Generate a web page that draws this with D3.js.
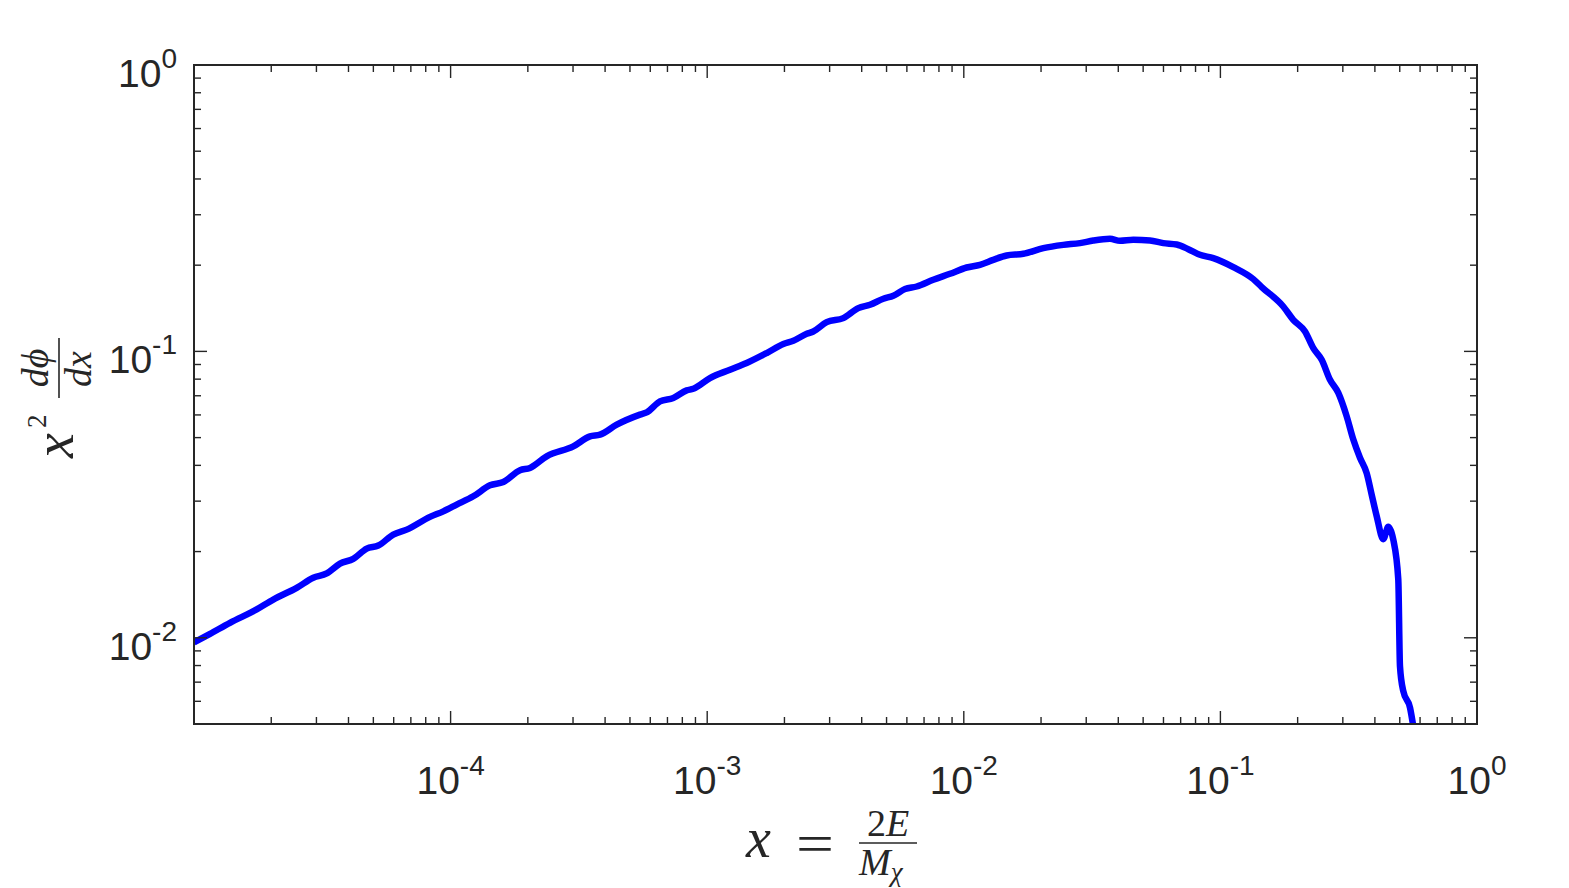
<!DOCTYPE html>
<html>
<head>
<meta charset="utf-8">
<script src="https://cdn.jsdelivr.net/npm/d3@7"></script>
<style>
  html, body { margin: 0; padding: 0; background: #fff; }
  svg { display: block; }
</style>
</head>
<body>
<svg id="chart" width="1569" height="888"></svg>
<script>
// ---------- data ----------
const xValues = [1.00e-5, 1.155e-5, 1.381e-5, 1.755e-5, 2.037e-5, 2.513e-5, 2.917e-5, 3.291e-5, 3.707e-5, 4.176e-5,
  4.710e-5, 5.226e-5, 5.978e-5, 6.744e-5, 8.31e-5, 9.37e-5, 1.056e-4, 1.226e-4, 1.424e-4, 1.605e-4,
  1.864e-4, 2.039e-4, 2.368e-4, 3.008e-4, 3.494e-4, 3.822e-4, 4.440e-4, 5.470e-4, 5.810e-4, 6.546e-4,
  7.378e-4, 8.318e-4, 8.826e-4, 1.025e-3, 1.227e-3, 1.425e-3, 1.706e-3, 1.980e-3, 2.166e-3, 2.443e-3,
  2.592e-3, 2.922e-3, 3.392e-3, 3.880e-3, 4.310e-3, 4.858e-3, 5.313e-3, 5.902e-3, 6.554e-3, 7.604e-3,
  8.835e-3, 1.026e-2, 1.156e-2, 1.303e-2, 1.469e-2, 1.706e-2, 2.041e-2, 2.443e-2, 2.836e-2, 3.197e-2,
  3.713e-2, 4.062e-2, 4.577e-2, 5.317e-2, 5.992e-2, 6.756e-2, 7.495e-2, 8.324e-2, 9.382e-2, 0.1123,
  0.1344, 0.1449, 0.1758, 0.1923, 0.2137, 0.2302, 0.2482, 0.2674, 0.2881, 0.3106,
  0.3296, 0.3499, 0.3716, 0.3887, 0.4065, 0.4314, 0.4511, 0.4718, 0.4934, 0.5010,
  0.5162, 0.5483, 0.5631];
const yValues = [0.00963, 0.01032, 0.01128, 0.01256, 0.01360, 0.01494, 0.01620, 0.01677, 0.01816, 0.01886,
  0.02049, 0.02099, 0.02293, 0.02386, 0.02643, 0.02764, 0.02917, 0.03119, 0.03406, 0.03501,
  0.03849, 0.03918, 0.04301, 0.04660, 0.05050, 0.05119, 0.05546, 0.06012, 0.06124, 0.06688,
  0.06874, 0.07308, 0.07408, 0.08072, 0.08630, 0.09108, 0.09868, 0.1061, 0.1089, 0.1152,
  0.1174, 0.1265, 0.1307, 0.1416, 0.1455, 0.1527, 0.1564, 0.1651, 0.1685, 0.1778,
  0.1866, 0.1963, 0.2006, 0.2088, 0.2162, 0.2192, 0.2294, 0.2355, 0.2388, 0.2438,
  0.2472, 0.2432, 0.2452, 0.2438, 0.2388, 0.2361, 0.2275, 0.2174, 0.2117, 0.1969,
  0.1788, 0.1677, 0.1435, 0.1289, 0.1174, 0.1027, 0.0935, 0.0796, 0.0716, 0.0593,
  0.0492, 0.0425, 0.0376, 0.0316, 0.0266, 0.0221, 0.0244, 0.0220, 0.0160, 0.00796,
  0.00651, 0.00570, 0.00498];

const xDomain = [1e-5, 1];
const yDomain = [0.005, 1];
const xTickExponents = [-4, -3, -2, -1, 0];
const yTickExponents = [-2, -1, 0];

// ---------- layout ----------
const L = 194, R = 1477, T = 65, B = 724;
const axisColor = "#262626";
const svg = d3.select("#chart");

const x = d3.scaleLog().domain(xDomain).range([L, R]);
const y = d3.scaleLog().domain(yDomain).range([B, T]);

// minor tick values
const xMinor = [], yMinor = [];
for (let e = -5; e < 0; e++) for (let m = 2; m <= 9; m++) xMinor.push(m * Math.pow(10, e));
for (let e = -3; e < 0; e++) for (let m = 2; m <= 9; m++) {
  const v = m * Math.pow(10, e);
  if (v >= yDomain[0] && v <= yDomain[1]) yMinor.push(v);
}
const xMajor = xTickExponents.map(e => Math.pow(10, e)).concat([1e-5]);
const yMajor = yTickExponents.map(e => Math.pow(10, e));

// clip
svg.append("defs").append("clipPath").attr("id", "clip")
  .append("rect").attr("x", L).attr("y", T).attr("width", R - L).attr("height", B - T);

// curve
const pts = d3.range(Math.min(xValues.length, yValues.length)).map(i => [xValues[i], yValues[i]]);
const line = d3.line().curve(d3.curveMonotoneX).x(d => x(d[0])).y(d => y(d[1]));
svg.append("path").datum(pts)
  .attr("clip-path", "url(#clip)")
  .attr("d", line)
  .attr("fill", "none")
  .attr("stroke", "#0000ff")
  .attr("stroke-width", 6.5)
  .attr("stroke-linejoin", "round")
  .attr("stroke-linecap", "butt");

// ticks
const tickG = svg.append("g").attr("stroke", axisColor).attr("stroke-width", 1.4);
function xTick(v, len) {
  const px = x(v);
  tickG.append("line").attr("x1", px).attr("x2", px).attr("y1", B).attr("y2", B - len);
  tickG.append("line").attr("x1", px).attr("x2", px).attr("y1", T).attr("y2", T + len);
}
function yTick(v, len) {
  const py = y(v);
  tickG.append("line").attr("x1", L).attr("x2", L + len).attr("y1", py).attr("y2", py);
  tickG.append("line").attr("x1", R).attr("x2", R - len).attr("y1", py).attr("y2", py);
}
xMinor.forEach(v => xTick(v, 7));
xMajor.forEach(v => xTick(v, 13));
yMinor.forEach(v => yTick(v, 7));
yMajor.forEach(v => yTick(v, 13));

// frame
svg.append("rect").attr("x", L).attr("y", T).attr("width", R - L).attr("height", B - T)
  .attr("fill", "none").attr("stroke", axisColor).attr("stroke-width", 2);

// tick labels
const tickFont = "'Liberation Sans', Arial, Helvetica, sans-serif";
xTickExponents.forEach(e => {
  const t = svg.append("text")
    .attr("x", x(Math.pow(10, e))).attr("y", 794)
    .attr("text-anchor", "middle")
    .attr("font-family", tickFont).attr("font-size", 39).attr("fill", axisColor);
  t.append("tspan").text("10");
  t.append("tspan").attr("dy", -19).attr("font-size", 28).text(String(e));
});
yTickExponents.forEach(e => {
  const t = svg.append("text")
    .attr("x", 177).attr("y", y(Math.pow(10, e)) + 22)
    .attr("text-anchor", "end")
    .attr("font-family", tickFont).attr("font-size", 39).attr("fill", axisColor);
  t.append("tspan").text("10");
  t.append("tspan").attr("dy", -19).attr("font-size", 28).text(String(e));
});

// axis labels (math style)
const mathFont = "'Liberation Serif', 'DejaVu Serif', 'Times New Roman', serif";
const xl = svg.append("g").attr("fill", axisColor).attr("font-family", mathFont);
xl.append("text").attr("x", 746).attr("y", 857).attr("font-size", 56).attr("font-style", "italic").text("x");
xl.append("text").attr("x", 796).attr("y", 862).attr("font-size", 54)
  .attr("textLength", 38).attr("lengthAdjust", "spacingAndGlyphs").text("=");
xl.append("line").attr("x1", 859).attr("x2", 917).attr("y1", 843).attr("y2", 843)
  .attr("stroke", axisColor).attr("stroke-width", 1.6);
const num = xl.append("text").attr("x", 888).attr("y", 836).attr("text-anchor", "middle").attr("font-size", 38);
num.append("tspan").text("2");
num.append("tspan").attr("font-style", "italic").text("E");
const den = xl.append("text").attr("x", 859).attr("y", 875).attr("font-size", 38);
den.append("tspan").attr("font-style", "italic").text("M");
den.append("tspan").attr("font-style", "italic").attr("font-size", 27).attr("dy", 6).text("χ");

// y label rotated
const yl = svg.append("g").attr("fill", axisColor).attr("font-family", mathFont)
  .attr("transform", "translate(0,457) rotate(-90)");
yl.append("text").attr("x", -1).attr("y", 73).attr("font-size", 56).attr("font-style", "italic").text("x");
yl.append("text").attr("x", 29).attr("y", 46).attr("font-size", 27).text("2");
yl.append("line").attr("x1", 59).attr("x2", 119).attr("y1", 59).attr("y2", 59)
  .attr("stroke", axisColor).attr("stroke-width", 1.6);
yl.append("text").attr("x", 89).attr("y", 48).attr("text-anchor", "middle").attr("font-size", 38)
  .attr("font-style", "italic").text("dϕ");
yl.append("text").attr("x", 88).attr("y", 91).attr("text-anchor", "middle").attr("font-size", 38)
  .attr("font-style", "italic").text("dx");
</script>
</body>
</html>
